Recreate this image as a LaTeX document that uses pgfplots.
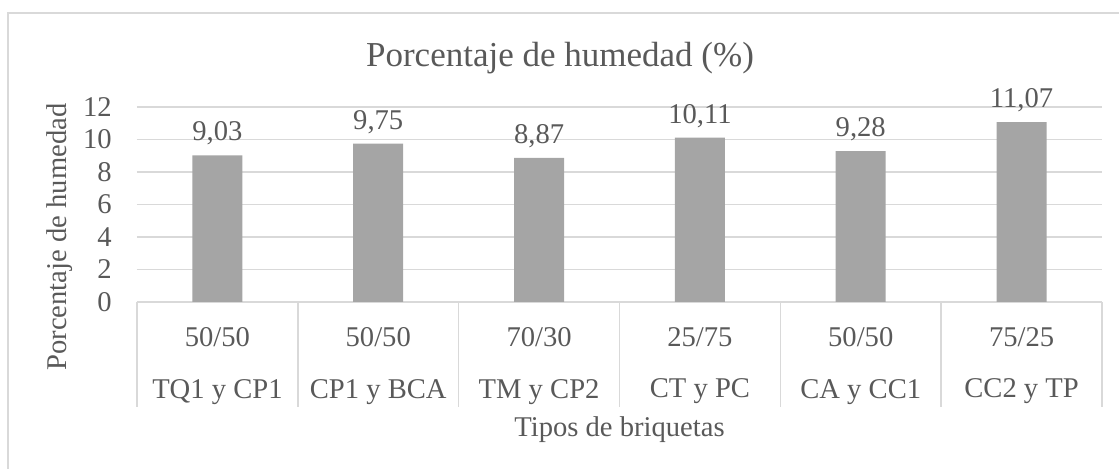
\documentclass[border=0pt]{standalone}
\usepackage{fontspec}
\setmainfont{Liberation Serif}
\usepackage{pgfplots}
\pgfplotsset{compat=1.18}
\definecolor{txt}{HTML}{595959}
\definecolor{gridc}{HTML}{D9D9D9}
\definecolor{barc}{HTML}{A5A5A5}
\newcommand{\lblfont}{\fontsize{14.3}{25.8}\selectfont}
\begin{document}
\begin{tikzpicture}[x=0.5pt,y=0.5pt]
\useasboundingbox (0,0) rectangle (1119,469);
\draw[gridc, line width=0.75pt] (8,0) -- (8,456) -- (1119,456);
\node[text=txt, font=\fontsize{17.5}{20}\selectfont, anchor=base] at (560,402) {Porcentaje de humedad (\%)};
\node[text=txt, font=\lblfont, anchor=base] at (619.5,32) {Tipos de briquetas};
\begin{axis}[
  at={(68.5pt,83.5pt)}, anchor=south west,
  width=482.5pt, height=97.5pt, scale only axis,
  xmin=-0.5, xmax=5.5, ymin=0, ymax=12,
  ytick={0,2,...,12},
  xtick={0,...,5},
  xticklabels={{50/50\\TQ1 y CP1},{50/50\\CP1 y BCA},{70/30\\TM y CP2},{25/75\\CT y PC},{50/50\\CA y CC1},{75/25\\CC2 y TP}},
  axis line style={draw=none},
  xtick pos=bottom, ytick pos=left,
  ymajorgrids, grid style={draw=gridc, line width=0.75pt},
  xtick style={draw=none}, ytick style={draw=none},
  major tick length=0pt,
  /pgf/number format/assume math mode=true,
  yticklabel style={font=\lblfont, text=txt, anchor=east, inner sep=0pt, xshift=-12.5pt},
  xticklabel style={font=\lblfont, text=txt, align=center, anchor=north, inner sep=0pt, yshift=-12.5pt},
  extra x ticks={-0.5,0.5,...,5.5},
  extra x tick labels={},
  extra x tick style={major tick length=52.5pt, tick align=outside, xtick style={draw=gridc, line width=0.75pt}, xmajorgrids=false},
  ylabel={Porcentaje de humedad},
  ylabel style={font=\lblfont, text=txt, at={(axis description cs:-0.0798,0.333)}, anchor=center, rotate=0},
  clip=false,
]
\addplot[ybar, bar width=25pt, fill=barc, draw=none,
  nodes near coords,
  nodes near coords style={font=\lblfont, text=txt, anchor=south, yshift=1.5pt,
    /pgf/number format/.cd, use comma, fixed, fixed zerofill, precision=2, assume math mode=true}]
coordinates {(0,9.03) (1,9.75) (2,8.87) (3,10.11) (4,9.28) (5,11.07)};
\end{axis}
\end{tikzpicture}
\end{document}
